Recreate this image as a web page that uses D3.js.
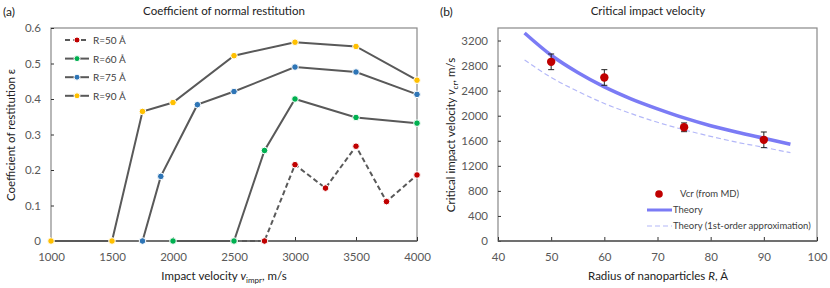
<!DOCTYPE html>
<html>
<head>
<meta charset="utf-8">
<script src="https://cdn.jsdelivr.net/npm/d3@7"></script>
<style>
  body { margin: 0; background: #fff; }
  svg { display: block; font-family: Lato, "Open Sans", sans-serif; }
</style>
</head>
<body>
<svg id="chart" width="830" height="288"></svg>
<script>
// --- Panel (a) data: coefficient of normal restitution vs impact velocity ---
const velR50 = [2500, 2750, 3000, 3250, 3500, 3750, 4000];
const epsR50 = [0, 0, 0.215, 0.149, 0.267, 0.111, 0.186];
const velR60 = [2000, 2500, 2750, 3000, 3500, 4000];
const epsR60 = [0, 0, 0.255, 0.400, 0.348, 0.332];
const velR75 = [1750, 1900, 2200, 2500, 3000, 3500, 4000];
const epsR75 = [0, 0.182, 0.384, 0.421, 0.490, 0.476, 0.413];
const velR90 = [1000, 1500, 1750, 2000, 2500, 3000, 3500, 4000];
const epsR90 = [0, 0, 0.365, 0.390, 0.522, 0.560, 0.548, 0.453];
const seriesNames = ['R=50 Å', 'R=60 Å', 'R=75 Å', 'R=90 Å'];
const velTicks = [1000, 1500, 2000, 2500, 3000, 3500, 4000];
const epsTicks = [0, 0.1, 0.2, 0.3, 0.4, 0.5, 0.6];

// --- Panel (b) data: critical impact velocity vs radius ---
const mdRadius = [50, 60, 75, 90];
const mdVcr = [2860, 2610, 1815, 1615];
const mdErr = [125, 125, 70, 125];
const theoryR = [45, 50, 55, 60, 65, 70, 75, 80, 85, 90, 95];
const theoryV = [3320, 2965, 2690, 2460, 2270, 2110, 1965, 1840, 1735, 1640, 1545];
const approxV = [2890, 2610, 2390, 2195, 2035, 1895, 1775, 1670, 1575, 1495, 1410];
const radiusTicks = [40, 50, 60, 70, 80, 90, 100];
const vcrTicks = [0, 400, 800, 1200, 1600, 2000, 2400, 2800, 3200];

const C = {
  red: '#c00000', green: '#00b050', blue: '#2e75b6', yellow: '#ffc000',
  line: '#595959', text: '#404040', tick: '#595959', frame: '#898989',
  theory: '#7b7bf5', approx: '#b4b8f8'
};

const svg = d3.select('#chart');

function frame(x, y, label, title, titleX, labelX) {
  const [x0, x1] = x.range(), [y0, y1] = y.range();
  svg.append('rect')
    .attr('x', x0).attr('y', y1)
    .attr('width', x1 - x0).attr('height', y0 - y1)
    .attr('fill', 'none').attr('stroke', C.frame).attr('stroke-width', 1.2);
  svg.append('text').attr('x', labelX).attr('y', 16)
    .attr('font-size', '12px').attr('fill', '#222').text(label);
  svg.append('text').attr('x', titleX).attr('y', 15)
    .attr('text-anchor', 'middle').attr('font-size', '11.5px')
    .attr('fill', '#222').text(title);
}

function axes(x, y, xt, yt, yfmt) {
  const [y0] = y.range();
  const xa = svg.append('g').attr('transform', `translate(0,${y0})`)
    .call(d3.axisBottom(x).tickValues(xt).tickSize(-4).tickPadding(12).tickFormat(d3.format('d')));
  const ya = svg.append('g').attr('transform', `translate(${x.range()[0]},0)`)
    .call(d3.axisLeft(y).tickValues(yt).tickSize(-3).tickPadding(10).tickFormat(yfmt));
  [xa, ya].forEach(a => {
    a.select('.domain').remove();
    a.selectAll('.tick line').attr('stroke', '#333');
    a.selectAll('text').attr('fill', C.tick).attr('font-size', '11.5px')
      .attr('font-family', 'Lato, sans-serif');
  });
  svg.append('line')
    .attr('x1', x.range()[0]).attr('x2', x.range()[1])
    .attr('y1', y0).attr('y2', y0)
    .attr('stroke', C.line).attr('stroke-width', 1.5);
}

// ================= Panel (a) =================
const xa = d3.scaleLinear().domain([1000, 4000]).range([51, 417]);
const ya = d3.scaleLinear().domain([0, 0.6]).range([241, 28]);
frame(xa, ya, '(a)', 'Coefficient of normal restitution', 224, 3);
axes(xa, ya, velTicks, epsTicks, d => d === 0 ? '0' : d3.format('.1f')(d));

const seriesA = [
  { v: velR50, e: epsR50, color: C.red, dash: '5,3' },
  { v: velR60, e: epsR60, color: C.green, dash: null },
  { v: velR75, e: epsR75, color: C.blue, dash: null },
  { v: velR90, e: epsR90, color: C.yellow, dash: null }
];

const lineA = d3.line().x(d => xa(d[0])).y(d => ya(d[1]));
seriesA.forEach(s => {
  const pts = s.v.map((v, i) => [v, s.e[i]]);
  svg.append('path').datum(pts)
    .attr('fill', 'none').attr('stroke', C.line).attr('stroke-width', 2)
    .attr('stroke-dasharray', s.dash).attr('d', lineA);
  svg.selectAll(null).data(pts).enter().append('circle')
    .attr('cx', d => xa(d[0])).attr('cy', d => ya(d[1])).attr('r', 3.3)
    .attr('fill', s.color).attr('stroke', '#fff').attr('stroke-width', 1);
});

// legend (a)
seriesA.forEach((s, i) => {
  const ly = 40 + i * 18.6;
  svg.append('line').attr('x1', 65).attr('x2', 89).attr('y1', ly).attr('y2', ly)
    .attr('stroke', C.line).attr('stroke-width', 2).attr('stroke-dasharray', s.dash);
  svg.append('circle').attr('cx', 77).attr('cy', ly).attr('r', 3)
    .attr('fill', s.color).attr('stroke', '#fff').attr('stroke-width', 1);
  svg.append('text').attr('x', 93).attr('y', ly + 4)
    .attr('font-size', '10px').attr('fill', C.text).text(seriesNames[i]);
});

// axis titles (a)
svg.append('text').attr('transform', 'translate(15,135) rotate(-90)')
  .attr('text-anchor', 'middle').attr('font-size', '11.5px').attr('fill', '#222')
  .text('Coefficient of restitution ε');
const xtA = svg.append('text').attr('x', 224).attr('y', 280)
  .attr('text-anchor', 'middle').attr('font-size', '11.5px').attr('fill', '#222');
xtA.append('tspan').text('Impact velocity ');
xtA.append('tspan').attr('font-style', 'italic').text('v');
xtA.append('tspan').attr('font-size', '8px').attr('dy', 3).text('impr');
xtA.append('tspan').attr('dy', -3).text(', m/s');

// ================= Panel (b) =================
const xb = d3.scaleLinear().domain([40, 100]).range([498, 817]);
const yb = d3.scaleLinear().domain([0, 3400]).range([241, 28]);
frame(xb, yb, '(b)', 'Critical impact velocity', 648, 440);
axes(xb, yb, radiusTicks, vcrTicks, d3.format('d'));

const theoryPts = theoryR.map((r, i) => [r, theoryV[i]]);
const approxPts = theoryR.map((r, i) => [r, approxV[i]]);
const lineB = d3.line().x(d => xb(d[0])).y(d => yb(d[1])).curve(d3.curveMonotoneX);

svg.append('path').datum(approxPts)
  .attr('fill', 'none').attr('stroke', C.approx).attr('stroke-width', 1.2)
  .attr('stroke-dasharray', '5,3').attr('d', lineB);
svg.append('path').datum(theoryPts)
  .attr('fill', 'none').attr('stroke', C.theory).attr('stroke-width', 3.5).attr('d', lineB);

// error bars + points
mdRadius.forEach((r, i) => {
  const cx = xb(r), top = yb(mdVcr[i] + mdErr[i]), bot = yb(mdVcr[i] - mdErr[i]);
  const g = svg.append('g').attr('stroke', '#222').attr('stroke-width', 1);
  g.append('line').attr('x1', cx).attr('x2', cx).attr('y1', top).attr('y2', bot);
  g.append('line').attr('x1', cx - 3).attr('x2', cx + 3).attr('y1', top).attr('y2', top);
  g.append('line').attr('x1', cx - 3).attr('x2', cx + 3).attr('y1', bot).attr('y2', bot);
});
svg.selectAll(null).data(mdRadius).enter().append('circle')
  .attr('cx', d => xb(d)).attr('cy', (d, i) => yb(mdVcr[i])).attr('r', 4.2)
  .attr('fill', C.red);

// legend (b)
svg.append('circle').attr('cx', 659).attr('cy', 194).attr('r', 3.8).attr('fill', C.red);
svg.append('line').attr('x1', 647).attr('x2', 672).attr('y1', 210).attr('y2', 210)
  .attr('stroke', C.theory).attr('stroke-width', 3);
svg.append('line').attr('x1', 647).attr('x2', 672).attr('y1', 226).attr('y2', 226)
  .attr('stroke', C.approx).attr('stroke-width', 1.2).attr('stroke-dasharray', '5,3');
[['Vcr (from MD)', 197, 680], ['Theory', 213, 673], ['Theory (1st-order approximation)', 229, 673]]
  .forEach(([t, y, x]) => {
    svg.append('text').attr('x', x).attr('y', y)
      .attr('font-size', '9.5px').attr('fill', C.text).text(t);
  });

// axis titles (b)
const ytB = svg.append('text').attr('transform', 'translate(455,135) rotate(-90)')
  .attr('text-anchor', 'middle').attr('font-size', '11.5px').attr('fill', '#222');
ytB.append('tspan').text('Critical impact velocity ');
ytB.append('tspan').attr('font-style', 'italic').text('v');
ytB.append('tspan').attr('font-size', '8px').attr('dy', 3).text('cr');
ytB.append('tspan').attr('dy', -3).text(', m/s');
const xtB = svg.append('text').attr('x', 658).attr('y', 280)
  .attr('text-anchor', 'middle').attr('font-size', '11.5px').attr('fill', '#222');
xtB.append('tspan').text('Radius of nanoparticles ');
xtB.append('tspan').attr('font-style', 'italic').text('R');
xtB.append('tspan').text(', Å');
</script>
</body>
</html>
